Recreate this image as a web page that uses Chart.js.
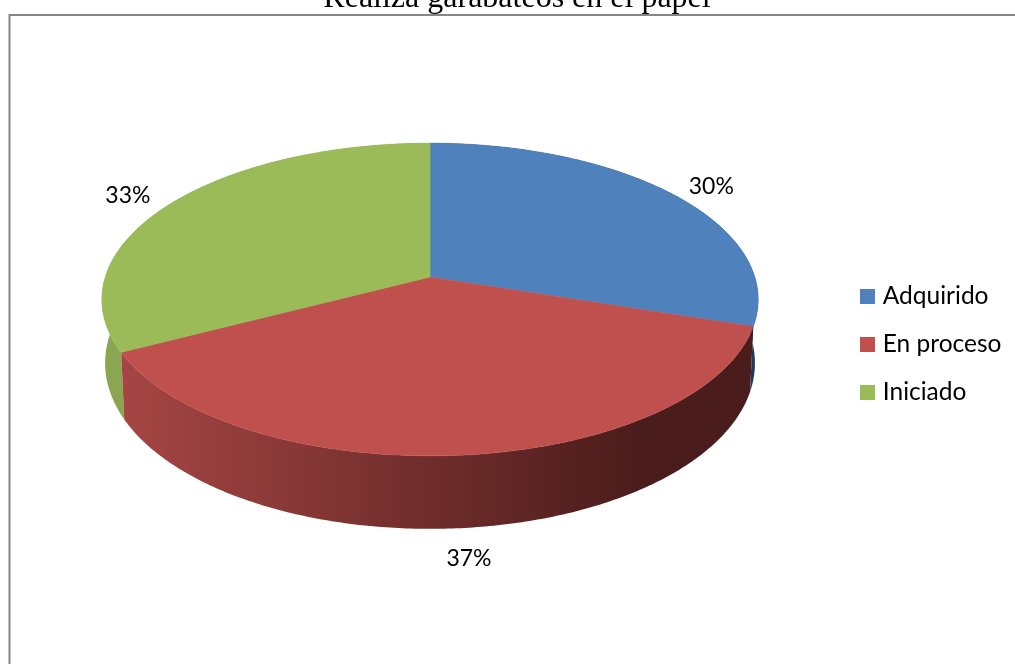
<!DOCTYPE html>
<html>
<head>
<meta charset="utf-8">
<script src="https://cdn.jsdelivr.net/npm/chart.js@4"></script>
<style>
html, body { margin: 0; padding: 0; background: #fff; overflow: hidden; }
#box { position: absolute; left: 0; top: 0; width: 1015px; height: 664px; }
</style>
</head>
<body>
<div id="box"><canvas id="pie"></canvas></div>
<script>
const categories = ['Adquirido', 'En proceso', 'Iniciado'];
const percentValues = [30, 37.4, 32.6];
const chartTitle = 'Realiza garabateos en el papel';
const sliceColors = ['#4F81BD', '#C0504D', '#9BBB59'];
const wallColors = [['#1d3a5e', '#1d3a5e'], ['#a64644', '#4a1c1b'], ['#8ba650', '#8ba650']];
const labelNudge = [[39, -7], [8, 30], [-44, -7]];

// perspective of the disc, as ratios of the radius chart.js gives the pie
const persp = { sx: 0.9993, sy: 0.4712, b: -0.1438, shift: -1.25, lift: -62, wallScale: 0.99, wallBase: 62, wallGrow: 11 };

function project(el, a) {
  const u = Math.cos(a), v = Math.sin(a);
  const d = 1 + persp.b * v;
  return {
    x: el.x + persp.shift + el.outerRadius * persp.sx * u / d,
    y: el.y + persp.lift + el.outerRadius * persp.sy * v / d,
    v: v
  };
}

function lower(el, p) {
  const cx = el.x + persp.shift;
  return {
    x: cx + (p.x - cx) * persp.wallScale,
    y: p.y + persp.wallBase + persp.wallGrow * p.v
  };
}

function rimPoints(el) {
  const pts = [];
  const n = Math.ceil((el.endAngle - el.startAngle) * 90);
  for (let i = 0; i <= n; i++) {
    pts.push(project(el, el.startAngle + (el.endAngle - el.startAngle) * i / n));
  }
  return pts;
}

const disc3d = {
  id: 'disc3d',
  beforeDraw(chart) {
    const c = chart.ctx;
    c.save();
    c.strokeStyle = '#868686';
    c.lineWidth = 2;
    c.beginPath();
    c.moveTo(9.5, 664);
    c.lineTo(9.5, 15);
    c.lineTo(1015, 15);
    c.stroke();
    c.restore();
  },
  beforeDatasetDraw(chart, args) {
    const c = chart.ctx;
    const els = args.meta.data;
    // walls: back ones first, the red front one on top
    [0, 2, 1].forEach(i => {
      const el = els[i];
      const rim = rimPoints(el);
      const g = c.createLinearGradient(121, 0, 640, 0);
      g.addColorStop(0, wallColors[i][0]);
      g.addColorStop(1, wallColors[i][1]);
      c.fillStyle = g;
      c.beginPath();
      rim.forEach((p, k) => k ? c.lineTo(p.x, p.y) : c.moveTo(p.x, p.y));
      rim.slice().reverse().forEach(p => { const q = lower(el, p); c.lineTo(q.x, q.y); });
      c.closePath();
      c.fill();
    });
    // top face
    els.forEach((el, i) => {
      c.fillStyle = sliceColors[i];
      c.strokeStyle = sliceColors[i];
      c.lineWidth = 0.5;
      c.beginPath();
      c.moveTo(el.x + persp.shift, el.y + persp.lift);
      rimPoints(el).forEach(p => c.lineTo(p.x, p.y));
      c.closePath();
      c.fill();
      c.stroke();
    });
    return false;
  },
  afterDatasetsDraw(chart) {
    const c = chart.ctx;
    const els = chart.getDatasetMeta(0).data;
    const total = percentValues.reduce((a, b) => a + b, 0);
    c.save();
    c.font = '23px Lato';
    c.fillStyle = '#000';
    c.textAlign = 'center';
    c.textBaseline = 'middle';
    els.forEach((el, i) => {
      const p = project(el, (el.startAngle + el.endAngle) / 2);
      const txt = Math.round(percentValues[i] / total * 100) + '%';
      const extra = p.v > 0.9 ? 73 : 0;
      c.fillText(txt, p.x + labelNudge[i][0], p.y + extra + labelNudge[i][1]);
    });
    c.restore();
  }
};

function swatch(color) {
  const s = document.createElement('canvas');
  s.width = 15;
  s.height = 15;
  const sc = s.getContext('2d');
  sc.fillStyle = color;
  sc.fillRect(0, 0, 15, 15);
  return s;
}

const ct = new Chart(document.getElementById('pie'), {
  type: 'pie',
  data: {
    labels: categories,
    datasets: [{ data: percentValues, backgroundColor: sliceColors, borderWidth: 0 }]
  },
  plugins: [disc3d],
  options: {
    responsive: true,
    maintainAspectRatio: false,
    animation: false,
    events: [],
    layout: { padding: { left: 22.5, right: 3.5, top: 0, bottom: -24 } },
    plugins: {
      tooltip: { enabled: false },
      title: {
        display: true,
        text: chartTitle,
        color: '#000',
        font: { family: 'Liberation Serif', size: 32, weight: 'normal' },
        padding: { top: -21, bottom: -3.4 }
      },
      legend: {
        position: 'right',
        labels: {
          color: '#000',
          font: { family: 'Lato', size: 24.5 },
          usePointStyle: true,
          pointStyleWidth: 7,
          padding: 23.5,
          generateLabels(chart) {
            return categories.map((name, i) => ({
              text: name,
              fillStyle: sliceColors[i],
              strokeStyle: sliceColors[i],
              lineWidth: 0,
              pointStyle: swatch(sliceColors[i]),
              index: i
            }));
          }
        }
      }
    }
  }
});
</script>
</body>
</html>
